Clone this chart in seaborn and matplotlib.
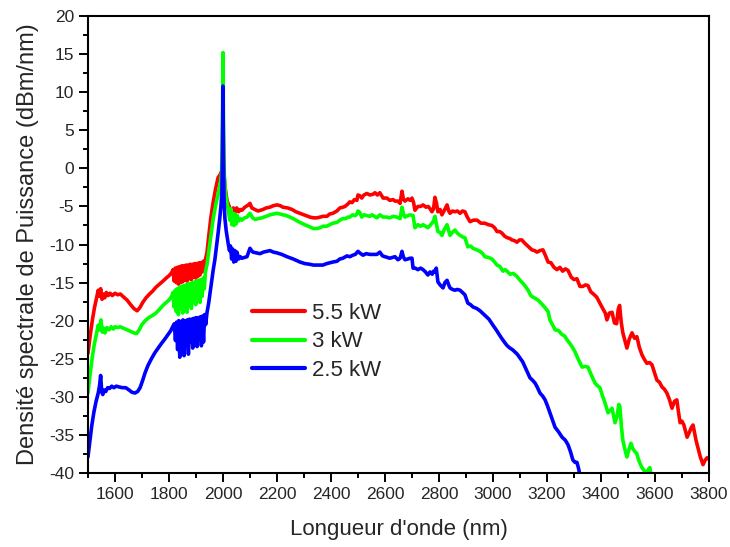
import pandas as pd
import matplotlib
matplotlib.use("Agg")
import matplotlib.pyplot as plt
import seaborn as sns
from matplotlib.ticker import MultipleLocator

# Series (wavelength in nm, PSD in dBm/nm)
series_names = ["5.5 kW", "3 kW", "2.5 kW"]
series_colors = ["#ff0000", "#00ff00", "#0000ff"]

wl_55 = [1500, 1508, 1516, 1524, 1532, 1538, 1542, 1547, 1552, 1557, 1562, 1568, 1575, 1582, 1590, 1600,
         1610, 1620, 1632, 1645, 1658, 1670, 1682, 1692, 1703, 1715, 1728, 1740, 1752, 1765, 1778, 1790,
         1800, 1810, 1815, 1819, 1823, 1827, 1831, 1835, 1839, 1843, 1847, 1851, 1855, 1859, 1863, 1867,
         1871, 1875, 1879, 1883, 1887, 1891, 1895, 1899, 1903, 1907, 1911, 1915, 1919, 1923, 1927, 1931,
         1935, 1941, 1947, 1955, 1963, 1972, 1982, 1990, 1996, 2000, 2004, 2009, 2015, 2022, 2028, 2033,
         2038, 2043, 2048, 2051, 2058, 2064, 2070, 2081, 2094, 2100, 2107, 2118, 2130, 2148, 2160, 2174,
         2187, 2200, 2212, 2222, 2240, 2256, 2270, 2285, 2300, 2322, 2335, 2348, 2360, 2370, 2385, 2395,
         2407, 2422, 2433, 2444, 2452, 2462, 2470, 2478, 2487, 2496, 2500, 2507, 2514, 2522, 2533, 2544,
         2556, 2563, 2572, 2581, 2593, 2607, 2618, 2630, 2637, 2648, 2656, 2663, 2668, 2674, 2685, 2693,
         2700, 2706, 2711, 2722, 2732, 2741, 2752, 2760, 2767, 2774, 2780, 2785, 2791, 2796, 2804, 2811,
         2820, 2830, 2836, 2841, 2850, 2859, 2868, 2878, 2887, 2896, 2905, 2915, 2928, 2941, 2955, 2970,
         2983, 2996, 3006, 3015, 3025, 3033, 3043, 3052, 3062, 3070, 3080, 3089, 3098, 3107, 3117, 3126,
         3135, 3144, 3154, 3163, 3174, 3185, 3195, 3204, 3215, 3226, 3237, 3248, 3258, 3268, 3278, 3290,
         3300, 3311, 3322, 3333, 3343, 3352, 3362, 3372, 3384, 3396, 3408, 3416, 3422, 3431, 3441, 3450,
         3458, 3464, 3469, 3475, 3481, 3490, 3496, 3505, 3515, 3524, 3533, 3542, 3552, 3561, 3570, 3580,
         3589, 3598, 3607, 3617, 3626, 3635, 3644, 3653, 3663, 3672, 3681, 3687, 3693, 3700, 3707, 3713,
         3719, 3728, 3735, 3741, 3747, 3752, 3760, 3768, 3778, 3786, 3793, 3800]
db_55 = [-24.3, -22.0, -20.0, -18.3, -17.0, -16.0, -16.8, -15.8, -17.2, -16.5, -17.0, -16.3, -16.7, -16.4, -16.7, -16.4,
         -16.6, -16.5, -16.9, -17.3, -17.9, -18.4, -18.7, -18.3, -17.6, -17.0, -16.5, -16.1, -15.6, -15.2, -14.8, -14.4,
         -14.1, -13.7, -13.3, -14.8, -13.1, -15.0, -13.0, -15.2, -12.9, -15.0, -12.8, -14.9, -12.8, -14.7, -12.7, -14.8,
         -12.7, -14.5, -12.6, -14.6, -12.6, -14.3, -12.5, -14.4, -12.5, -14.2, -12.4, -14.0, -12.4, -13.6, -12.2, -13.4,
         -12.0, -11.0, -9.0, -6.5, -4.6, -2.8, -1.2, -0.8, -0.3, 0.5, -1.0, -2.8, -4.2, -4.9, -5.4, -6.0,
         -5.2, -6.0, -5.3, -5.2, -5.7, -5.4, -5.5, -5.1, -4.8, -4.6, -5.2, -5.4, -5.6, -5.4, -5.2, -5.1,
         -4.9, -4.8, -4.9, -5.1, -5.2, -5.4, -5.7, -5.9, -6.1, -6.4, -6.5, -6.5, -6.4, -6.3, -6.3, -6.0,
         -5.9, -5.6, -5.2, -5.1, -5.0, -4.7, -4.4, -4.5, -4.1, -4.2, -3.5, -3.6, -3.9, -3.5, -3.3, -3.5,
         -3.4, -3.2, -3.5, -3.2, -3.9, -3.9, -4.2, -4.1, -4.3, -4.3, -4.6, -3.0, -4.0, -4.3, -4.0, -4.2,
         -3.9, -4.5, -5.5, -5.0, -5.0, -4.8, -5.1, -5.0, -5.3, -5.7, -5.3, -3.8, -4.6, -5.7, -5.4, -6.1,
         -5.5, -4.8, -5.6, -5.9, -5.6, -5.7, -5.6, -5.9, -5.6, -5.7, -6.4, -7.0, -6.8, -6.8, -7.2, -7.2,
         -7.4, -7.5, -7.8, -8.3, -8.3, -8.5, -8.9, -9.1, -9.2, -9.4, -9.5, -9.7, -9.4, -9.4, -9.8, -10.1,
         -10.4, -10.7, -10.8, -11.0, -10.8, -10.7, -11.5, -12.3, -12.4, -13.0, -13.3, -13.0, -13.5, -13.2, -13.4, -14.3,
         -14.6, -14.5, -15.5, -15.5, -15.3, -15.4, -16.2, -16.5, -16.9, -17.7, -18.5, -19.0, -19.9, -19.0, -18.9, -20.3,
         -20.4, -18.5, -18.0, -20.2, -21.6, -22.8, -23.6, -22.4, -21.6, -22.3, -22.1, -23.5, -24.5, -25.1, -25.6, -25.5,
         -25.8, -26.8, -27.8, -28.1, -28.7, -29.0, -29.5, -30.3, -31.5, -30.6, -30.4, -32.0, -33.4, -33.2, -33.7, -34.5,
         -35.3, -34.6, -34.0, -33.7, -34.8, -35.7, -36.8, -37.9, -38.9, -38.3, -38.0, -38.2]

wl_3 = [1500, 1508, 1516, 1524, 1532, 1538, 1543, 1548, 1553, 1558, 1563, 1570, 1578, 1586, 1594, 1600,
        1610, 1620, 1632, 1645, 1658, 1670, 1680, 1690, 1700, 1712, 1725, 1740, 1752, 1765, 1778, 1790,
        1800, 1810, 1815, 1819, 1823, 1827, 1831, 1835, 1839, 1843, 1847, 1851, 1855, 1859, 1863, 1867,
        1871, 1875, 1879, 1883, 1887, 1891, 1895, 1899, 1903, 1907, 1911, 1915, 1919, 1923, 1927, 1931,
        1935, 1941, 1947, 1955, 1963, 1972, 1982, 1990, 1995, 1998, 2000, 2002, 2005, 2010, 2015, 2020,
        2025, 2029, 2033, 2037, 2041, 2045, 2049, 2053, 2058, 2064, 2070, 2080, 2089, 2100, 2110, 2119,
        2132, 2144, 2160, 2174, 2187, 2200, 2212, 2222, 2235, 2248, 2265, 2285, 2303, 2322, 2335, 2348,
        2360, 2370, 2385, 2395, 2407, 2422, 2433, 2444, 2455, 2462, 2470, 2480, 2490, 2496, 2500, 2507,
        2514, 2522, 2533, 2544, 2552, 2561, 2570, 2581, 2593, 2607, 2618, 2630, 2644, 2656, 2663, 2668,
        2674, 2685, 2693, 2704, 2711, 2722, 2732, 2741, 2750, 2759, 2767, 2774, 2780, 2785, 2791, 2796,
        2804, 2811, 2820, 2830, 2836, 2841, 2850, 2859, 2868, 2878, 2887, 2896, 2907, 2917, 2926, 2940,
        2952, 2962, 2970, 2983, 2996, 3006, 3015, 3026, 3037, 3045, 3052, 3063, 3075, 3089, 3100, 3111,
        3120, 3130, 3140, 3148, 3158, 3167, 3178, 3193, 3204, 3211, 3220, 3230, 3243, 3255, 3265, 3274,
        3285, 3296, 3304, 3315, 3330, 3340, 3352, 3365, 3378, 3389, 3396, 3405, 3415, 3426, 3434, 3441,
        3447, 3452, 3460, 3466, 3470, 3476, 3481, 3488, 3496, 3503, 3511, 3518, 3526, 3532, 3537, 3545,
        3552, 3562, 3570, 3576, 3581, 3586]
db_3 = [-29.5, -27.0, -24.8, -23.0, -21.6, -20.6, -21.2, -19.9, -21.5, -21.0, -21.6, -20.9, -21.2, -20.8, -21.1, -20.8,
        -20.9, -20.8, -21.0, -21.2, -21.4, -21.6, -21.7, -21.2, -20.5, -20.0, -19.6, -19.3, -19.0, -18.5, -18.0, -17.6,
        -17.3, -16.8, -16.3, -18.2, -16.0, -18.8, -15.8, -19.2, -15.6, -18.5, -15.5, -19.0, -15.4, -18.6, -15.3, -18.9,
        -15.2, -18.0, -15.1, -18.4, -15.0, -17.6, -14.9, -17.9, -14.8, -17.2, -14.7, -17.6, -14.6, -16.8, -14.4, -15.8,
        -13.6, -12.6, -11.0, -8.8, -6.8, -5.0, -3.3, -2.0, -0.5, 6.0, 15.2, 6.0, -1.0, -3.5, -4.5, -5.5,
        -6.8, -5.3, -7.4, -5.9, -7.5, -6.0, -7.3, -6.2, -6.9, -6.6, -6.8, -6.5, -6.4, -5.9, -6.5, -6.7,
        -6.6, -6.5, -6.3, -6.1, -6.0, -5.9, -6.0, -6.1, -6.2, -6.4, -6.7, -7.1, -7.4, -7.7, -7.9, -7.9,
        -7.8, -7.6, -7.6, -7.4, -7.2, -7.1, -6.8, -6.6, -6.6, -6.4, -6.4, -6.1, -6.2, -6.0, -5.6, -5.8,
        -6.4, -6.1, -6.2, -6.3, -6.1, -6.3, -6.5, -6.1, -6.4, -6.4, -6.5, -6.3, -6.4, -6.6, -5.1, -5.9,
        -6.4, -6.2, -6.1, -6.2, -7.8, -7.4, -7.6, -7.4, -7.6, -7.8, -7.5, -7.2, -6.9, -6.3, -7.4, -8.3,
        -8.4, -8.8, -8.0, -7.4, -8.2, -8.8, -8.4, -8.1, -8.5, -8.8, -9.0, -9.1, -10.3, -10.2, -10.5, -10.7,
        -10.9, -11.2, -11.6, -11.7, -11.9, -12.3, -12.7, -12.9, -13.5, -13.3, -13.5, -13.9, -13.8, -14.2, -14.7, -15.1,
        -15.5, -16.0, -16.7, -16.9, -17.1, -17.3, -17.7, -18.3, -18.8, -19.9, -20.5, -21.2, -21.3, -21.8, -22.0, -22.5,
        -23.0, -23.6, -24.1, -25.0, -26.1, -26.0, -26.1, -27.2, -28.2, -28.6, -28.8, -29.8, -30.8, -32.1, -31.8, -31.5,
        -32.5, -33.4, -32.5, -31.0, -31.3, -34.0, -35.7, -36.8, -37.9, -37.0, -36.1, -36.8, -37.2, -37.4, -38.0, -38.8,
        -39.3, -39.8, -39.9, -39.5, -39.3, -40.3]

wl_25 = [1500, 1507, 1514, 1522, 1530, 1538, 1543, 1547, 1551, 1555, 1560, 1566, 1573, 1580, 1588, 1596,
         1605, 1615, 1627, 1640, 1652, 1663, 1674, 1684, 1693, 1702, 1711, 1722, 1735, 1748, 1760, 1772,
         1785, 1797, 1807, 1815, 1820, 1824, 1828, 1832, 1836, 1840, 1844, 1848, 1852, 1856, 1860, 1864,
         1868, 1872, 1876, 1880, 1884, 1888, 1892, 1896, 1900, 1904, 1908, 1912, 1916, 1920, 1924, 1928,
         1932, 1936, 1941, 1947, 1952, 1958, 1964, 1970, 1976, 1982, 1988, 1993, 1996, 1998, 2000, 2002,
         2004, 2007, 2012, 2019, 2024, 2028, 2032, 2036, 2040, 2044, 2048, 2052, 2058, 2064, 2070, 2080,
         2089, 2095, 2100, 2106, 2111, 2124, 2137, 2150, 2162, 2174, 2187, 2200, 2218, 2237, 2260, 2285,
         2303, 2322, 2335, 2348, 2360, 2370, 2385, 2396, 2407, 2422, 2433, 2444, 2459, 2470, 2481, 2490,
         2500, 2510, 2519, 2530, 2544, 2556, 2570, 2581, 2591, 2600, 2609, 2618, 2628, 2637, 2648, 2656,
         2663, 2668, 2674, 2685, 2693, 2700, 2704, 2712, 2722, 2732, 2741, 2750, 2759, 2767, 2775, 2780,
         2785, 2790, 2796, 2804, 2815, 2822, 2830, 2836, 2841, 2850, 2859, 2868, 2878, 2887, 2896, 2907,
         2917, 2926, 2940, 2952, 2961, 2970, 2985, 3000, 3010, 3019, 3030, 3044, 3053, 3063, 3072, 3081,
         3090, 3100, 3110, 3119, 3128, 3137, 3146, 3156, 3165, 3174, 3184, 3193, 3202, 3211, 3220, 3230,
         3243, 3256, 3268, 3278, 3287, 3296, 3304, 3311, 3317, 3322]
db_25 = [-37.9, -35.8, -33.8, -32.0, -30.6, -29.5, -28.5, -27.2, -29.4, -29.7, -29.1, -29.3, -28.8, -28.9, -28.6, -28.8,
         -28.6, -28.7, -28.8, -28.8, -29.1, -29.4, -29.5, -29.3, -28.8, -27.9, -26.9, -25.9, -25.0, -24.2, -23.6, -23.0,
         -22.4, -21.8, -21.3, -20.7, -20.4, -22.6, -20.2, -23.8, -20.0, -24.8, -20.1, -23.5, -19.9, -24.6, -20.0, -23.2,
         -19.9, -24.4, -19.8, -22.8, -19.8, -23.6, -19.7, -22.5, -19.6, -23.4, -19.6, -22.4, -19.5, -23.3, -19.4, -22.8,
         -19.2, -20.5, -18.9, -17.7, -16.4, -14.8, -13.3, -12.0, -10.3, -8.5, -6.6, -4.8, -3.0, 1.5, 10.8, 1.5,
         -4.0, -6.5, -8.2, -9.8, -10.8, -10.2, -11.9, -10.6, -12.3, -10.8, -12.2, -11.0, -11.9, -11.6, -11.8, -11.7,
         -11.6, -11.0, -10.5, -10.8, -11.0, -11.1, -11.2, -11.0, -10.9, -10.8, -11.0, -11.1, -11.3, -11.6, -11.9, -12.3,
         -12.5, -12.6, -12.7, -12.7, -12.7, -12.7, -12.5, -12.4, -12.3, -12.2, -11.9, -11.8, -11.5, -11.6, -11.4, -11.3,
         -10.9, -11.2, -11.4, -11.2, -11.3, -11.3, -11.3, -11.0, -11.5, -11.6, -11.7, -11.8, -11.7, -11.6, -12.0, -11.8,
         -10.9, -11.6, -12.0, -11.9, -11.8, -11.8, -13.1, -13.1, -13.3, -13.1, -13.3, -13.6, -14.0, -13.6, -13.9, -13.5,
         -13.6, -13.1, -14.9, -15.3, -15.7, -15.0, -14.7, -15.3, -15.7, -15.9, -16.0, -15.9, -16.0, -16.3, -16.6, -17.7,
         -17.9, -18.2, -18.4, -18.7, -19.0, -19.3, -19.8, -20.6, -21.1, -21.6, -22.2, -22.9, -23.3, -23.6, -23.8, -24.1,
         -24.4, -24.9, -25.4, -26.1, -26.8, -27.5, -27.8, -28.2, -28.8, -29.5, -29.9, -30.4, -31.2, -32.1, -33.0, -34.0,
         -34.6, -35.3, -35.7, -36.3, -37.2, -38.3, -38.6, -38.6, -39.4, -40.3]

df = pd.concat([
    pd.DataFrame({"wl": wl_55, "db": db_55, "serie": series_names[0]}),
    pd.DataFrame({"wl": wl_3, "db": db_3, "serie": series_names[1]}),
    pd.DataFrame({"wl": wl_25, "db": db_25, "serie": series_names[2]}),
], ignore_index=True)

sns.set_theme(style="ticks")
plt.rcParams["font.family"] = ["Liberation Sans", "DejaVu Sans"]
plt.rcParams["axes.unicode_minus"] = False

fig = plt.figure(figsize=(7.3, 5.47), dpi=100)
ax = fig.add_axes([0.1205, 0.1353, 0.8507, 0.8354])

sns.lineplot(data=df, x="wl", y="db", hue="serie", hue_order=series_names,
             palette=dict(zip(series_names, series_colors)), sort=False,
             estimator=None, linewidth=2.6, legend=False, ax=ax)

ax.set_xlim(1500, 3800)
ax.set_ylim(-40, 20)
ax.xaxis.set_major_locator(MultipleLocator(200))
ax.xaxis.set_minor_locator(MultipleLocator(100))
ax.yaxis.set_major_locator(MultipleLocator(5))
ax.yaxis.set_minor_locator(MultipleLocator(2.5))
ax.set_xticks(range(1600, 3801, 200))
ax.tick_params(which="major", direction="out", length=6.5, width=1.4, labelsize=12.5, color="black")
ax.tick_params(which="minor", direction="out", length=3.5, width=1.4, color="black")
ax.tick_params(top=False, right=False, which="both")
for sp in ax.spines.values():
    sp.set_linewidth(1.5)
    sp.set_color("black")

ax.set_xlabel("Longueur d'onde (nm)", fontsize=16, labelpad=12)
ax.set_ylabel("Densité spectrale de Puissance (dBm/nm)", fontsize=17, labelpad=7)

leg = ax.legend(ax.lines[:3], series_names, loc="upper left", bbox_to_anchor=(0.264, 0.372),
                frameon=False, fontsize=16, handlelength=2.4, handletextpad=0.3,
                labelspacing=0.33, borderpad=0, borderaxespad=0)
for h in leg.legend_handles:
    h.set_linewidth(3)

fig.savefig("out.png", dpi=100)
